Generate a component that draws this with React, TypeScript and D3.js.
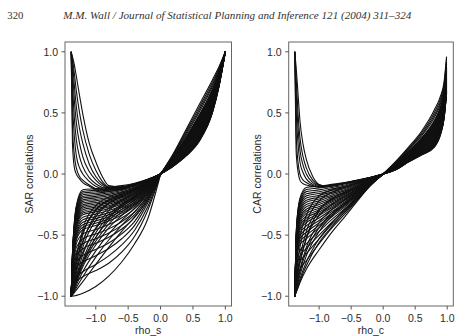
import React from "react";
import * as d3 from "d3";

// rho grids (x values) on which the curves are read
const LEFT_RHO = [-1.38, -1.36, -1.33, -1.3, -1.2, -1.0, -0.8, -0.6, -0.4, -0.2, 0];
const PEAK_RHO = [-1.38, -1.36, -1.33, -1.3, -1.25, -1.2, -1.1, -1.0, -0.9, -0.8, -0.6, -0.4, -0.2, 0];
const SAR_RIGHT_RHO = [0, 0.2, 0.4, 0.6, 0.8, 0.9, 1.0];
const CAR_RIGHT_RHO = [0, 0.2, 0.4, 0.6, 0.8, 0.9, 0.95, 0.99];

const X_TICKS = [-1, -0.5, 0, 0.5, 1];
const Y_TICKS = [-1, -0.5, 0, 0.5, 1];
const X_DOMAIN = [-1.475, 1.095];
const Y_DOMAIN = [-1.08, 1.08];

// SAR correlations, rho_s < 0 (values on LEFT_RHO)
const sarLeft: number[][] = [
  [-1, -0.65, -0.39, -0.26, -0.129, -0.12, -0.109, -0.095, -0.075, -0.043, 0],
  [-1, -0.66, -0.40, -0.27, -0.143, -0.132, -0.121, -0.105, -0.083, -0.047, 0],
  [-1, -0.66, -0.41, -0.28, -0.156, -0.145, -0.132, -0.115, -0.091, -0.052, 0],
  [-1, -0.67, -0.42, -0.30, -0.17, -0.158, -0.144, -0.125, -0.099, -0.056, 0],
  [-1, -0.67, -0.43, -0.31, -0.184, -0.17, -0.155, -0.135, -0.107, -0.061, 0],
  [-1, -0.68, -0.44, -0.32, -0.197, -0.183, -0.167, -0.145, -0.115, -0.065, 0],
  [-1, -0.68, -0.45, -0.33, -0.211, -0.195, -0.178, -0.155, -0.122, -0.07, 0],
  [-1, -0.69, -0.46, -0.34, -0.224, -0.208, -0.19, -0.165, -0.13, -0.074, 0],
  [-1, -0.70, -0.47, -0.35, -0.238, -0.22, -0.201, -0.175, -0.138, -0.079, 0],
  [-1, -0.70, -0.48, -0.36, -0.252, -0.233, -0.213, -0.185, -0.146, -0.083, 0],
  [-1, -0.71, -0.49, -0.38, -0.265, -0.246, -0.224, -0.195, -0.154, -0.088, 0],
  [-1, -0.71, -0.50, -0.39, -0.279, -0.258, -0.236, -0.205, -0.162, -0.092, 0],
  [-1, -0.72, -0.50, -0.40, -0.292, -0.271, -0.247, -0.215, -0.17, -0.097, 0],
  [-1, -0.72, -0.51, -0.41, -0.306, -0.284, -0.259, -0.225, -0.178, -0.101, 0],
  [-1, -0.73, -0.52, -0.42, -0.32, -0.296, -0.27, -0.235, -0.186, -0.106, 0],
  [-1, -0.73, -0.53, -0.43, -0.333, -0.309, -0.282, -0.245, -0.194, -0.11, 0],
  [-1, -0.74, -0.55, -0.45, -0.354, -0.328, -0.299, -0.26, -0.205, -0.117, 0],
  [-1, -0.75, -0.56, -0.47, -0.374, -0.347, -0.316, -0.275, -0.217, -0.124, 0],
  [-1, -0.76, -0.58, -0.49, -0.394, -0.365, -0.334, -0.29, -0.229, -0.13, 0],
  [-1, -0.77, -0.59, -0.50, -0.415, -0.384, -0.351, -0.305, -0.241, -0.137, 0],
  [-1, -0.77, -0.61, -0.52, -0.435, -0.403, -0.368, -0.32, -0.253, -0.144, 0],
  [-1, -0.78, -0.62, -0.54, -0.456, -0.422, -0.385, -0.335, -0.265, -0.151, 0],
  [-1, -0.80, -0.64, -0.57, -0.49, -0.454, -0.414, -0.36, -0.284, -0.162, 0],
  [-1, -0.81, -0.67, -0.60, -0.53, -0.491, -0.449, -0.39, -0.308, -0.176, 0],
  [-1, -0.83, -0.70, -0.635, -0.571, -0.529, -0.483, -0.42, -0.332, -0.189, 0],
  [-1, -0.845, -0.73, -0.67, -0.612, -0.567, -0.518, -0.45, -0.356, -0.203, 0],
  [-1, -0.87, -0.77, -0.72, -0.666, -0.617, -0.564, -0.49, -0.387, -0.22, 0],
  [-1, -0.89, -0.80, -0.76, -0.72, -0.668, -0.61, -0.53, -0.42, -0.24, 0],
  [-1, -0.93, -0.88, -0.85, -0.80, -0.74, -0.67, -0.58, -0.46, -0.27, 0],
  [-1, -0.95, -0.91, -0.88, -0.84, -0.79, -0.73, -0.64, -0.51, -0.30, 0],
  [-1, -0.999, -0.997, -0.993, -0.975, -0.92, -0.835, -0.72, -0.57, -0.37, 0],
  [-1, -0.90, -0.80, -0.72, -0.55, -0.35, -0.24, -0.18, -0.13, -0.07, 0],
  [-1, -0.92, -0.84, -0.78, -0.64, -0.44, -0.30, -0.22, -0.16, -0.085, 0],
  [-1, -0.88, -0.75, -0.66, -0.48, -0.30, -0.21, -0.16, -0.12, -0.065, 0],
  [-1, -0.94, -0.88, -0.83, -0.72, -0.52, -0.36, -0.27, -0.195, -0.105, 0],
  [-1, -0.96, -0.90, -0.84, -0.66, -0.45, -0.33, -0.25, -0.18, -0.10, 0],
  [-1, -0.95, -0.88, -0.81, -0.60, -0.38, -0.28, -0.21, -0.155, -0.085, 0],
  [-1, -0.97, -0.92, -0.87, -0.72, -0.52, -0.38, -0.29, -0.21, -0.115, 0],
  [-1, -0.97, -0.93, -0.89, -0.76, -0.58, -0.44, -0.34, -0.25, -0.14, 0],
  [-1, -0.98, -0.95, -0.91, -0.80, -0.63, -0.49, -0.38, -0.28, -0.16, 0],
  [-1, -0.94, -0.86, -0.78, -0.56, -0.33, -0.24, -0.19, -0.14, -0.078, 0],
  [-1, -0.98, -0.96, -0.93, -0.84, -0.68, -0.54, -0.42, -0.31, -0.18, 0],
  [-1, -0.93, -0.83, -0.74, -0.50, -0.29, -0.22, -0.17, -0.125, -0.07, 0],
  [-1, -0.96, -0.91, -0.86, -0.70, -0.48, -0.35, -0.26, -0.19, -0.105, 0],
  [-1, -0.99, -0.97, -0.95, -0.88, -0.74, -0.60, -0.47, -0.35, -0.21, 0],
  [-1, -0.92, -0.80, -0.70, -0.45, -0.26, -0.19, -0.15, -0.11, -0.06, 0],
  [-1, -0.97, -0.93, -0.88, -0.74, -0.55, -0.41, -0.31, -0.23, -0.125, 0],
];

// SAR curves that reach +1 at the lower end of rho_s (values on PEAK_RHO)
const sarPeaks: number[][] = [
  [1.0, 0.96, 0.89, 0.80, 0.64, 0.49, 0.25, 0.10, -0.02, -0.095, -0.105, -0.08, -0.045, 0],
  [1.0, 0.94, 0.82, 0.68, 0.50, 0.36, 0.16, 0.03, -0.06, -0.105, -0.108, -0.082, -0.046, 0],
  [1.0, 0.92, 0.72, 0.55, 0.37, 0.25, 0.08, -0.02, -0.08, -0.11, -0.11, -0.084, -0.047, 0],
  [1.0, 0.85, 0.60, 0.42, 0.25, 0.14, 0.02, -0.05, -0.095, -0.115, -0.113, -0.086, -0.048, 0],
  [1.0, 0.75, 0.45, 0.28, 0.14, 0.06, -0.03, -0.08, -0.11, -0.12, -0.116, -0.088, -0.049, 0],
  [1.0, 0.60, 0.30, 0.15, 0.05, 0.0, -0.06, -0.10, -0.12, -0.125, -0.12, -0.09, -0.05, 0],
  [1.0, 0.40, 0.15, 0.05, -0.02, -0.05, -0.09, -0.12, -0.13, -0.13, -0.124, -0.092, -0.051, 0],
  [1.0, 0.25, 0.05, 0.0, -0.04, -0.07, -0.10, -0.13, -0.14, -0.14, -0.128, -0.095, -0.052, 0],
];

// SAR correlations, rho_s > 0 (values on SAR_RIGHT_RHO)
const sarRight: number[][] = [
  [0, 0.17, 0.37, 0.57, 0.77, 0.875, 1.0],
  [0, 0.163, 0.355, 0.549, 0.751, 0.863, 1.0],
  [0, 0.155, 0.339, 0.528, 0.732, 0.852, 1.0],
  [0, 0.149, 0.326, 0.51, 0.716, 0.842, 1.0],
  [0, 0.141, 0.308, 0.486, 0.694, 0.829, 1.0],
  [0, 0.139, 0.304, 0.48, 0.689, 0.826, 1.0],
  [0, 0.136, 0.30, 0.474, 0.684, 0.822, 1.0],
  [0, 0.134, 0.295, 0.468, 0.678, 0.819, 1.0],
  [0, 0.132, 0.291, 0.462, 0.673, 0.816, 1.0],
  [0, 0.13, 0.286, 0.456, 0.667, 0.812, 1.0],
  [0, 0.128, 0.282, 0.45, 0.662, 0.809, 1.0],
  [0, 0.126, 0.278, 0.444, 0.657, 0.806, 1.0],
  [0, 0.124, 0.273, 0.438, 0.651, 0.802, 1.0],
  [0, 0.122, 0.269, 0.432, 0.646, 0.799, 1.0],
  [0, 0.12, 0.264, 0.426, 0.64, 0.796, 1.0],
  [0, 0.118, 0.26, 0.42, 0.635, 0.793, 1.0],
  [0, 0.115, 0.256, 0.414, 0.63, 0.789, 1.0],
  [0, 0.113, 0.251, 0.408, 0.624, 0.786, 1.0],
  [0, 0.111, 0.247, 0.402, 0.619, 0.783, 1.0],
  [0, 0.109, 0.242, 0.396, 0.613, 0.779, 1.0],
  [0, 0.107, 0.238, 0.39, 0.608, 0.776, 1.0],
  [0, 0.105, 0.234, 0.384, 0.603, 0.773, 1.0],
  [0, 0.103, 0.229, 0.378, 0.597, 0.769, 1.0],
  [0, 0.101, 0.225, 0.372, 0.592, 0.766, 1.0],
  [0, 0.099, 0.22, 0.366, 0.586, 0.763, 1.0],
  [0, 0.097, 0.216, 0.36, 0.581, 0.76, 1.0],
  [0, 0.094, 0.212, 0.354, 0.576, 0.756, 1.0],
  [0, 0.092, 0.207, 0.348, 0.57, 0.753, 1.0],
  [0, 0.09, 0.203, 0.342, 0.565, 0.75, 1.0],
  [0, 0.088, 0.198, 0.336, 0.559, 0.746, 1.0],
  [0, 0.086, 0.194, 0.33, 0.554, 0.743, 1.0],
  [0, 0.084, 0.19, 0.324, 0.549, 0.74, 1.0],
  [0, 0.082, 0.185, 0.318, 0.543, 0.736, 1.0],
  [0, 0.08, 0.181, 0.312, 0.538, 0.733, 1.0],
  [0, 0.078, 0.176, 0.306, 0.532, 0.73, 1.0],
  [0, 0.076, 0.172, 0.30, 0.527, 0.727, 1.0],
  [0, 0.073, 0.168, 0.294, 0.522, 0.723, 1.0],
  [0, 0.072, 0.164, 0.29, 0.518, 0.721, 1.0],
  [0, 0.07, 0.161, 0.285, 0.514, 0.718, 1.0],
  [0, 0.069, 0.158, 0.281, 0.509, 0.716, 1.0],
  [0, 0.067, 0.154, 0.276, 0.505, 0.713, 1.0],
  [0, 0.066, 0.152, 0.273, 0.503, 0.712, 1.0],
  [0, 0.065, 0.15, 0.27, 0.50, 0.71, 1.0],
];

// CAR correlations, rho_c < 0 (values on LEFT_RHO)
const carLeft: number[][] = [
  [-1, -0.51, -0.29, -0.20, -0.11, -0.10, -0.085, -0.07, -0.05, -0.027, 0],
  [-1, -0.52, -0.30, -0.214, -0.127, -0.115, -0.098, -0.08, -0.057, -0.031, 0],
  [-1, -0.53, -0.315, -0.23, -0.144, -0.13, -0.11, -0.09, -0.064, -0.034, 0],
  [-1, -0.54, -0.33, -0.246, -0.162, -0.145, -0.122, -0.10, -0.071, -0.038, 0],
  [-1, -0.55, -0.343, -0.261, -0.179, -0.16, -0.134, -0.109, -0.077, -0.041, 0],
  [-1, -0.56, -0.358, -0.277, -0.197, -0.175, -0.147, -0.119, -0.084, -0.044, 0],
  [-1, -0.57, -0.371, -0.293, -0.214, -0.19, -0.159, -0.129, -0.09, -0.048, 0],
  [-1, -0.58, -0.386, -0.309, -0.232, -0.205, -0.171, -0.138, -0.097, -0.05, 0],
  [-1, -0.59, -0.40, -0.325, -0.25, -0.22, -0.183, -0.147, -0.103, -0.053, 0],
  [-1, -0.60, -0.414, -0.341, -0.268, -0.235, -0.195, -0.156, -0.109, -0.056, 0],
  [-1, -0.61, -0.43, -0.358, -0.287, -0.25, -0.207, -0.165, -0.115, -0.059, 0],
  [-1, -0.62, -0.444, -0.375, -0.305, -0.265, -0.218, -0.174, -0.12, -0.062, 0],
  [-1, -0.63, -0.458, -0.391, -0.323, -0.28, -0.23, -0.183, -0.126, -0.064, 0],
  [-1, -0.64, -0.474, -0.408, -0.342, -0.295, -0.242, -0.191, -0.132, -0.067, 0],
  [-1, -0.65, -0.489, -0.425, -0.361, -0.31, -0.253, -0.20, -0.137, -0.069, 0],
  [-1, -0.66, -0.504, -0.442, -0.38, -0.325, -0.265, -0.209, -0.142, -0.071, 0],
  [-1, -0.67, -0.519, -0.459, -0.399, -0.34, -0.276, -0.217, -0.147, -0.073, 0],
  [-1, -0.684, -0.54, -0.483, -0.425, -0.36, -0.291, -0.228, -0.154, -0.076, 0],
  [-1, -0.698, -0.561, -0.506, -0.451, -0.38, -0.306, -0.238, -0.16, -0.079, 0],
  [-1, -0.712, -0.582, -0.529, -0.477, -0.40, -0.321, -0.249, -0.166, -0.081, 0],
  [-1, -0.727, -0.602, -0.553, -0.503, -0.42, -0.335, -0.259, -0.173, -0.083, 0],
  [-1, -0.742, -0.624, -0.577, -0.53, -0.44, -0.35, -0.269, -0.178, -0.085, 0],
  [-1, -0.80, -0.68, -0.63, -0.571, -0.47, -0.371, -0.284, -0.187, -0.088, 0],
  [-1, -0.83, -0.72, -0.67, -0.61, -0.50, -0.393, -0.298, -0.194, -0.09, 0],
  [-1, -0.86, -0.77, -0.72, -0.653, -0.53, -0.413, -0.312, -0.201, -0.092, 0],
  [-1, -0.90, -0.83, -0.78, -0.71, -0.57, -0.441, -0.329, -0.21, -0.093, 0],
  [-1, -0.97, -0.93, -0.89, -0.78, -0.62, -0.475, -0.35, -0.22, -0.095, 0],
  [-1, -0.85, -0.70, -0.60, -0.40, -0.22, -0.15, -0.11, -0.075, -0.04, 0],
  [-1, -0.90, -0.80, -0.72, -0.52, -0.30, -0.20, -0.15, -0.10, -0.05, 0],
  [-1, -0.80, -0.62, -0.52, -0.34, -0.18, -0.13, -0.10, -0.07, -0.037, 0],
  [-1, -0.93, -0.85, -0.78, -0.60, -0.40, -0.29, -0.21, -0.14, -0.07, 0],
  [-1, -0.95, -0.89, -0.83, -0.67, -0.47, -0.34, -0.25, -0.165, -0.08, 0],
  [-1, -0.91, -0.81, -0.73, -0.53, -0.34, -0.25, -0.185, -0.125, -0.063, 0],
  [-1, -0.96, -0.91, -0.86, -0.72, -0.53, -0.40, -0.29, -0.19, -0.09, 0],
  [-1, -0.89, -0.77, -0.68, -0.47, -0.29, -0.21, -0.16, -0.11, -0.056, 0],
  [-1, -0.94, -0.87, -0.80, -0.63, -0.44, -0.32, -0.235, -0.155, -0.076, 0],
  [-1, -0.97, -0.93, -0.88, -0.75, -0.56, -0.43, -0.31, -0.205, -0.093, 0],
];

// CAR curves that reach +1 at the lower end of rho_c (values on PEAK_RHO)
const carPeaks: number[][] = [
  [1.0, 0.88, 0.66, 0.44, 0.24, 0.12, -0.02, -0.085, -0.095, -0.09, -0.072, -0.051, -0.028, 0],
  [1.0, 0.80, 0.50, 0.30, 0.14, 0.05, -0.05, -0.09, -0.098, -0.092, -0.074, -0.052, -0.028, 0],
  [1.0, 0.70, 0.38, 0.20, 0.07, 0.0, -0.07, -0.095, -0.10, -0.094, -0.075, -0.053, -0.029, 0],
  [1.0, 0.55, 0.25, 0.10, 0.01, -0.04, -0.085, -0.10, -0.102, -0.095, -0.076, -0.054, -0.029, 0],
  [1.0, 0.35, 0.10, 0.0, -0.05, -0.07, -0.095, -0.105, -0.104, -0.097, -0.077, -0.055, -0.03, 0],
  [1.0, 0.20, 0.02, -0.05, -0.08, -0.09, -0.10, -0.108, -0.106, -0.098, -0.078, -0.055, -0.03, 0],
];

// CAR correlations, rho_c > 0 (values on CAR_RIGHT_RHO)
const carRight: number[][] = [
  [0, 0.105, 0.222, 0.35, 0.525, 0.645, 0.75, 0.96],
  [0, 0.10, 0.213, 0.336, 0.504, 0.623, 0.729, 0.939],
  [0, 0.095, 0.205, 0.323, 0.482, 0.601, 0.708, 0.918],
  [0, 0.091, 0.198, 0.311, 0.464, 0.582, 0.69, 0.90],
  [0, 0.085, 0.188, 0.295, 0.44, 0.557, 0.666, 0.876],
  [0, 0.084, 0.185, 0.292, 0.434, 0.551, 0.66, 0.87],
  [0, 0.083, 0.183, 0.288, 0.427, 0.544, 0.654, 0.864],
  [0, 0.081, 0.181, 0.284, 0.421, 0.538, 0.648, 0.858],
  [0, 0.08, 0.178, 0.28, 0.415, 0.532, 0.642, 0.852],
  [0, 0.078, 0.176, 0.276, 0.409, 0.525, 0.636, 0.846],
  [0, 0.077, 0.173, 0.272, 0.403, 0.519, 0.63, 0.84],
  [0, 0.076, 0.171, 0.268, 0.397, 0.513, 0.624, 0.834],
  [0, 0.074, 0.168, 0.264, 0.391, 0.506, 0.618, 0.828],
  [0, 0.073, 0.166, 0.26, 0.385, 0.50, 0.612, 0.822],
  [0, 0.071, 0.163, 0.256, 0.379, 0.494, 0.606, 0.816],
  [0, 0.07, 0.161, 0.253, 0.373, 0.488, 0.60, 0.81],
  [0, 0.069, 0.159, 0.249, 0.366, 0.481, 0.594, 0.804],
  [0, 0.067, 0.156, 0.245, 0.36, 0.475, 0.588, 0.798],
  [0, 0.066, 0.154, 0.241, 0.354, 0.469, 0.582, 0.792],
  [0, 0.064, 0.151, 0.237, 0.348, 0.462, 0.576, 0.786],
  [0, 0.063, 0.149, 0.233, 0.342, 0.456, 0.57, 0.78],
  [0, 0.062, 0.146, 0.229, 0.336, 0.45, 0.564, 0.774],
  [0, 0.06, 0.144, 0.225, 0.33, 0.443, 0.558, 0.768],
  [0, 0.059, 0.141, 0.221, 0.324, 0.437, 0.552, 0.762],
  [0, 0.057, 0.139, 0.217, 0.318, 0.431, 0.546, 0.756],
  [0, 0.056, 0.137, 0.214, 0.312, 0.425, 0.54, 0.75],
  [0, 0.055, 0.134, 0.21, 0.305, 0.418, 0.534, 0.744],
  [0, 0.053, 0.132, 0.206, 0.299, 0.412, 0.528, 0.738],
  [0, 0.052, 0.129, 0.202, 0.293, 0.406, 0.522, 0.732],
  [0, 0.05, 0.127, 0.198, 0.287, 0.399, 0.516, 0.726],
  [0, 0.049, 0.124, 0.194, 0.281, 0.393, 0.51, 0.72],
  [0, 0.048, 0.122, 0.19, 0.275, 0.387, 0.504, 0.714],
  [0, 0.046, 0.12, 0.186, 0.269, 0.38, 0.498, 0.708],
  [0, 0.045, 0.117, 0.182, 0.263, 0.374, 0.492, 0.702],
  [0, 0.043, 0.115, 0.178, 0.257, 0.368, 0.486, 0.696],
  [0, 0.042, 0.112, 0.175, 0.251, 0.362, 0.48, 0.69],
  [0, 0.041, 0.11, 0.171, 0.244, 0.355, 0.474, 0.684],
  [0, 0.04, 0.108, 0.168, 0.24, 0.35, 0.47, 0.68],
  [0, 0.039, 0.106, 0.165, 0.235, 0.346, 0.465, 0.675],
  [0, 0.037, 0.104, 0.162, 0.231, 0.34, 0.46, 0.67],
  [0, 0.036, 0.102, 0.159, 0.226, 0.336, 0.456, 0.666],
  [0, 0.036, 0.101, 0.157, 0.223, 0.333, 0.453, 0.663],
  [0, 0.035, 0.10, 0.155, 0.22, 0.33, 0.45, 0.66],
];

const HEADER_PAGE = "320";
const HEADER_TEXT = "M.M. Wall / Journal of Statistical Planning and Inference 121 (2004) 311\u2013324";

type Group = { rho: number[]; curves: number[][] };

type PanelProps = {
  left: number;
  right: number;
  yLabel: string;
  xLabel: string;
  yLabelX: number;
  groups: Group[];
};

const TOP = 42;
const BOTTOM = 306;
const AXIS_FONT = "'Liberation Sans', Arial, sans-serif";

function Panel({ left, right, yLabel, xLabel, yLabelX, groups }: PanelProps) {
  const x = d3.scaleLinear().domain(X_DOMAIN).range([left, right]);
  const y = d3.scaleLinear().domain(Y_DOMAIN).range([BOTTOM, TOP]);
  const line = d3
    .line<[number, number]>()
    .x((d) => x(d[0]))
    .y((d) => y(d[1]))
    .curve(d3.curveMonotoneX);
  const fmt = d3.format(".1f");
  const paths: string[] = [];
  groups.forEach((g) =>
    g.curves.forEach((c) => {
      const pts = g.rho.map((r, i) => [r, c[i]] as [number, number]);
      paths.push(line(pts) || "");
    })
  );
  const midY = (TOP + BOTTOM) / 2;
  return (
    <g>
      <g fill="none" stroke="#111" strokeWidth={1.1} strokeLinejoin="round">
        {paths.map((p, i) => (
          <path key={i} d={p} />
        ))}
      </g>
      <rect x={left} y={TOP} width={right - left} height={BOTTOM - TOP} fill="none" stroke="#666" strokeWidth={1} />
      <g stroke="#555" strokeWidth={1}>
        {Y_TICKS.map((t) => (
          <line key={"y" + t} x1={left - 3.5} x2={left} y1={y(t)} y2={y(t)} />
        ))}
        {X_TICKS.map((t) => (
          <line key={"x" + t} x1={x(t)} x2={x(t)} y1={BOTTOM} y2={BOTTOM + 3.5} />
        ))}
      </g>
      <g fontFamily={AXIS_FONT} fontSize={10.5} fill="#2a2a2a">
        {Y_TICKS.map((t) => (
          <text key={"yl" + t} x={left - 7} y={y(t)} dy="0.36em" textAnchor="end">
            {fmt(t)}
          </text>
        ))}
        {X_TICKS.map((t) => (
          <text key={"xl" + t} x={x(t)} y={321.5} textAnchor="middle">
            {fmt(t)}
          </text>
        ))}
        <text x={(left + right) / 2} y={334} textAnchor="middle">
          {xLabel}
        </text>
        <text transform={`translate(${yLabelX},${midY}) rotate(-90)`} textAnchor="middle">
          {yLabel}
        </text>
      </g>
    </g>
  );
}

export default function App() {
  return (
    <svg
      width={463}
      height={336}
      viewBox="0 0 463 336"
      style={{ position: "absolute", left: 0, top: 0, background: "#fff" }}
    >
      <rect x={0} y={0} width={463} height={336} fill="#fff" />
      <g fontFamily="'Liberation Serif', 'Times New Roman', serif" fontSize={10.7} fill="#333">
        <text x={7.3} y={19}>
          {HEADER_PAGE}
        </text>
        <text x={63.3} y={19} fontStyle="italic" textLength={348} lengthAdjust="spacingAndGlyphs">
          {HEADER_TEXT}
        </text>
      </g>
      <Panel
        left={65}
        right={231.5}
        yLabel="SAR correlations"
        xLabel="rho_s"
        yLabelX={33.3}
        groups={[
          { rho: LEFT_RHO, curves: sarLeft },
          { rho: PEAK_RHO, curves: sarPeaks },
          { rho: SAR_RIGHT_RHO, curves: sarRight },
        ]}
      />
      <Panel
        left={288.7}
        right={453.3}
        yLabel="CAR correlations"
        xLabel="rho_c"
        yLabelX={260.5}
        groups={[
          { rho: LEFT_RHO, curves: carLeft },
          { rho: PEAK_RHO, curves: carPeaks },
          { rho: CAR_RIGHT_RHO, curves: carRight },
        ]}
      />
    </svg>
  );
}
